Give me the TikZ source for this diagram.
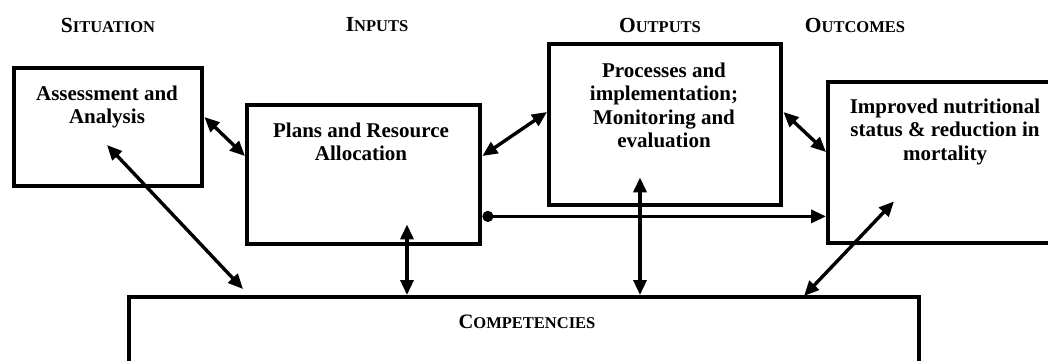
\documentclass[tikz,border=0pt]{standalone}
\usepackage{fontspec}
\setmainfont{Liberation Serif}
\usetikzlibrary{arrows.meta}
\newcommand{\sch}[2]{#1{\fontsize{16.5}{17}\selectfont #2}}
\tikzset{
  box/.style={draw, line width=4.4pt, anchor=north west, inner sep=0pt},
  boxtext/.style={font=\fontsize{21}{23.2}\selectfont\bfseries, align=center, anchor=north, inner sep=0pt},
  head/.style={font=\fontsize{21.5}{22}\selectfont\bfseries, inner sep=0pt},
  link/.style={line width=3.4pt, {Triangle[length=15pt,width=13pt]}-{Triangle[length=15pt,width=13pt]}},
  onelink/.style={line width=3.4pt, {Circle[length=11pt]}-{Triangle[length=15pt,width=13pt]}},
}
\begin{document}
\begin{tikzpicture}[x=1pt,y=-1pt]
\useasboundingbox (0,0) rectangle (1048,360);
\clip (0,0) rectangle (1048,360);

% column headings
\node[head] (hsit) at (108,25) {\sch{S}{ITUATION}};
\node[head] (hinp) at (377,25) {\sch{I}{NPUTS}};
\node[head] (hout) at (660,25) {\sch{O}{UTPUTS}};
\node[head] (hocm) at (855,25) {\sch{O}{UTCOMES}};

% boxes
\node[box, minimum width=188pt, minimum height=118pt] (A) at (12,66) {};
\node[box, minimum width=233pt, minimum height=139pt] (B) at (245,103) {};
\node[box, minimum width=232pt, minimum height=161pt] (C) at (547,42) {};
\node[box, minimum width=240pt, minimum height=161pt] (D) at (826,80) {};
\node[box, minimum width=790pt, minimum height=100pt] (E) at (127,295) {};

% box texts
\node[boxtext] (tA) at (107,86) {Assessment and\\Analysis};
\node[boxtext] (tB) at (361,123) {Plans and Resource\\Allocation};
\node[boxtext] (tC) at (664,63) {Processes and\\implementation;\\Monitoring and\\evaluation};
\node[boxtext] (tD) at (945,99) {Improved nutritional\\status \& reduction in\\mortality};
\node[head, font=\fontsize{20.5}{21}\selectfont\bfseries] (tE) at (527,322) {\sch{C}{OMPETENCIES}};

% connectors
\draw[link] ([yshift=-51pt]A.north east) -- ([yshift=-53pt]B.north west);
\draw[link] ([yshift=-53pt]B.north east) -- ([yshift=-70pt]C.north west);
\draw[link] ([yshift=-70pt]C.north east) -- ([yshift=-72pt]D.north west);
\draw[link] ([xshift=95pt,yshift=-79pt]A.north west) -- ([xshift=116pt,yshift=6pt]E.north west);
\draw[link] ([xshift=280pt]E.north west) -- ([xshift=162pt,yshift=22pt]B.south west);
\draw[link] ([xshift=513pt]E.north west) -- ([xshift=93pt,yshift=30pt]C.south west);
\draw[link] ([xshift=677pt,yshift=-1pt]E.north west) -- ([xshift=68pt,yshift=44pt]D.south west);
\draw[onelink] ([yshift=30pt]B.south east) -- ([yshift=29pt]D.south west);
\end{tikzpicture}
\end{document}
